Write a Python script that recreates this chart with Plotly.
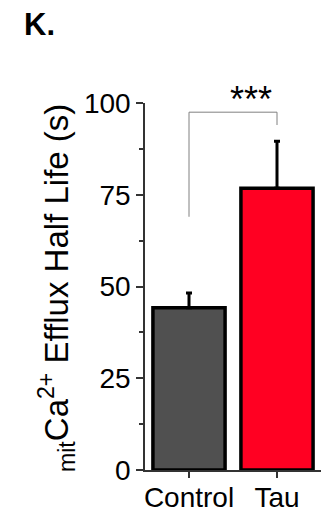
import plotly.graph_objects as go

categories = ["Control", "Tau"]
means = [44.2, 76.8]
sem = [4.0, 12.8]
bar_colors = ["#505050", "#ff0022"]
y_ticks = [0, 25, 50, 75, 100]
sig_label = "***"
bracket_left_bottom = 69.0
bracket_right_bottom = 94.0
bracket_top = 97.5

FONT = "Liberation Sans, Arial, sans-serif"
L, T, B, R = 145, 103, 43, 0
W, H = 321, 513
PW, PH = W - L - R, H - T - B


def px_x(px):
    return (px - L) / PW


def px_y(py):
    return (H - B - py) / PH


fig = go.Figure()
fig.add_trace(go.Bar(
    x=categories, y=means,
    marker=dict(color=bar_colors, line=dict(color="black", width=3.5)),
    width=0.82,
    error_y=dict(type="data", symmetric=False, array=sem, arrayminus=[0, 0],
                 color="black", thickness=3, width=3),
    showlegend=False,
))

# significance bracket
for x0, x1, y0, y1 in [(0, 0, bracket_left_bottom, bracket_top),
                       (0, 1, bracket_top, bracket_top),
                       (1, 1, bracket_right_bottom, bracket_top)]:
    fig.add_shape(type="line", xref="x", yref="y", x0=x0, x1=x1, y0=y0, y1=y1,
                  line=dict(color="#808080", width=1))
fig.add_annotation(x=0.71, y=px_y(99), xref="x", yref="paper", text=sig_label,
                   showarrow=False, yanchor="middle",
                   font=dict(family=FONT, size=36, color="black"))

# panel label
fig.add_annotation(x=px_x(22), y=px_y(25), xref="paper", yref="paper",
                   text="<b>K.</b>", showarrow=False, xanchor="left", yanchor="middle",
                   font=dict(family=FONT, size=31, color="black"))
# y axis title
fig.add_annotation(x=px_x(56), y=px_y(288), xref="paper", yref="paper",
                   text="<sub>mit</sub>Ca<sup>2+</sup> Efflux Half Life (s)",
                   textangle=-90, showarrow=False, xanchor="center", yanchor="middle",
                   font=dict(family=FONT, size=33, color="black"))

fig.update_layout(
    width=W, height=H,
    margin=dict(l=L, r=R, t=T, b=B, pad=0),
    paper_bgcolor="white", plot_bgcolor="white",
    font=dict(family=FONT, color="black", size=28),
)

fig.update_xaxes(
    range=[-0.5, 1.5], showline=True, linecolor="#333333", linewidth=1.5,
    ticks="outside", ticklen=6, tickcolor="#333333", tickwidth=1.5,
    tickfont=dict(family=FONT, size=28, color="black"), showgrid=False, zeroline=False,
    automargin=False, ticklabelstandoff=-4,
)
fig.update_yaxes(
    range=[0, 100], tickvals=y_ticks, showline=True, linecolor="#333333", linewidth=1.5,
    ticks="outside", ticklen=7, tickcolor="#333333", tickwidth=1.5,
    minor=dict(dtick=12.5, ticks="outside", ticklen=4, tickcolor="#333333", tickwidth=1.5),
    tickfont=dict(family=FONT, size=28, color="black"), showgrid=False, zeroline=False,
    automargin=False,
)

fig.write_html("out.html", config={"displayModeBar": False},
               post_script="document.body.style.margin='0';document.body.style.overflow='hidden';")
